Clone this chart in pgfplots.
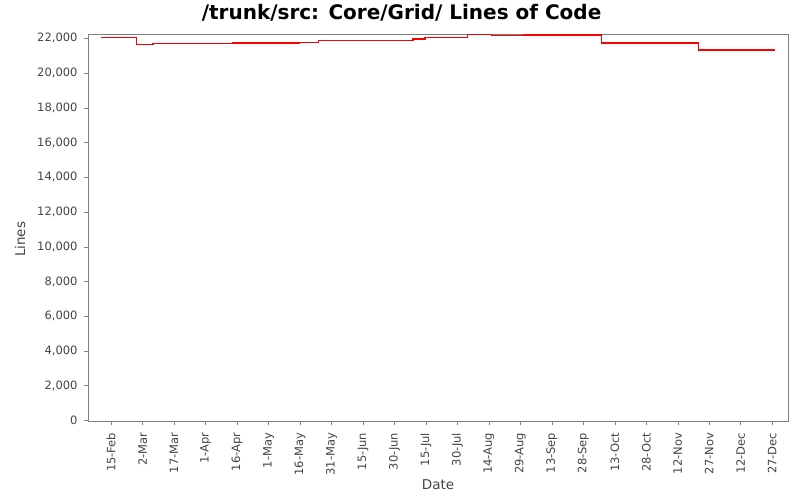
\documentclass[border=0pt]{standalone}
\usepackage{pgfplots}
\pgfplotsset{compat=1.18}
\usepackage{fontspec}
\setmainfont{DejaVu Sans}
\definecolor{framegray}{RGB}{128,128,128}
\definecolor{labelgray}{RGB}{68,68,68}
\definecolor{locred}{RGB}{255,0,0}
\begin{document}
\begin{tikzpicture}
\useasboundingbox (0,0) rectangle (800bp,500bp);
\begin{axis}[
    at={(88bp,78.7bp)}, anchor=south west,
    width=700bp, height=387bp, scale only axis,
    xmin=35, xmax=368.5,
    ymin=-46, ymax=22234,
    axis line style={framegray, line width=1bp},
    tick style={framegray, line width=0.6bp},
    tick align=outside, major tick length=4bp,
    xtick={46,61,76,91,106,121,136,151,166,181,196,211,226,241,256,271,286,301,316,331,346,361},
    xticklabels={15-Feb,2-Mar,17-Mar,1-Apr,16-Apr,1-May,16-May,31-May,15-Jun,30-Jun,15-Jul,30-Jul,14-Aug,29-Aug,13-Sep,28-Sep,13-Oct,28-Oct,12-Nov,27-Nov,12-Dec,27-Dec},
    x tick label style={rotate=90, anchor=east, font=\fontsize{11.5bp}{13bp}\selectfont, labelgray},
    xticklabel shift=4bp,
    ytick={0,2000,4000,6000,8000,10000,12000,14000,16000,18000,20000,22000},
    y tick label style={font=\fontsize{11.5bp}{13bp}\selectfont, labelgray},
    yticklabel shift=3bp,
    /pgf/number format/assume math mode=true,
    /pgf/number format/1000 sep={,},
    scaled y ticks=false,
    xtick pos=bottom, ytick pos=left,
    xlabel={Date}, ylabel={Lines},
    xlabel style={at={(axis description cs:0.5,-0.163)}, anchor=center, font=\fontsize{13.5bp}{15bp}\selectfont, labelgray},
    ylabel style={at={(axis description cs:-0.097,0.47)}, anchor=center, rotate=0, font=\fontsize{13.5bp}{15bp}\selectfont, labelgray},
    title={/trunk/src: Core/Grid/ Lines of Code},
    title style={at={(axis description cs:0.448,1.041)}, anchor=center, font=\fontsize{20bp}{22bp}\selectfont\bfseries},
    clip=false,
]
\addplot[const plot mark left, draw=locred, line width=1.3bp, mark=none] coordinates {
    (41,22040) (58,21660) (66,21700) (104,21730) (135.7,21770) (144.7,21865)
    (172.7,21890) (189.8,21960) (195.5,22040) (215.7,22210) (227.3,22175)
    (242.7,22190) (279.7,21730) (325.9,21330) (362.2,21330)
};
\end{axis}
\end{tikzpicture}
\end{document}
